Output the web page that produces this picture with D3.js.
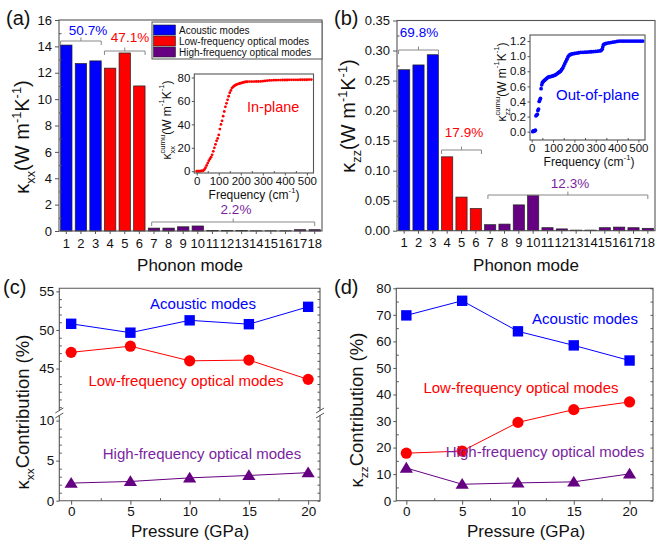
<!DOCTYPE html>
<html>
<head>
<meta charset="utf-8">
<script src="https://cdnjs.cloudflare.com/ajax/libs/d3/7.8.5/d3.min.js"></script>
<style>
body { margin: 0; background: #fff; }
svg { display: block; font-family: "Liberation Sans", Arial, sans-serif; }
</style>
</head>
<body>
<svg id="chart" width="657" height="547"></svg>
<script>
// ---- data ----
var modes = ["1","2","3","4","5","6","7","8","9","10","11","12","13","14","15","16","17","18"];
var modeGroup = ["ac","ac","ac","lo","lo","lo","hi","hi","hi","hi","hi","hi","hi","hi","hi","hi","hi","hi"];
var kxxModes = [14.1, 12.7, 12.9, 12.35, 13.5, 11.0, 0.22, 0.22, 0.32, 0.38, 0.04, 0.03, 0.03, 0.02, 0.02, 0.02, 0.10, 0.10];
var kzzModes = [0.268, 0.276, 0.293, 0.123, 0.056, 0.037, 0.010, 0.011, 0.043, 0.059, 0.005, 0.003, 0.001, 0.001, 0.005, 0.006, 0.005, 0.004];
var xxPercent = ["50.7%", "47.1%", "2.2%"];
var zzPercent = ["69.8%", "17.9%", "12.3%"];

var inplaneCumu = [[0,0],[5,0],[10,0],[15,0.1],[20,0.2],[25,0.3],[30,0.6],[35,1.5],[40,3],[45,5],[50,7],[55,9],[60,10.5],[65,12],
  [70,14],[75,17],[80,20],[85,23],[90,26],[95,28],[100,31],[105,36],[110,40],[115,43],[120,47],[125,51],[130,55],[135,58],
  [140,61],[145,64],[150,67],[155,69],[160,71],[165,72],[170,72.8],[175,73.4],[180,74],[185,74.3],[190,74.6],[195,74.9],
  [200,75.2],[205,75.5],[210,75.8],[215,76],[220,76.2],[225,76.3],[230,76.4],[240,76.5],[250,76.5],[260,76.5],[270,76.6],
  [280,76.6],[290,76.7],[300,76.9],[310,77.1],[320,77.3],[330,77.5],[340,77.6],[350,77.7],[360,77.7],[370,77.8],[380,77.8],
  [390,77.9],[400,77.9],[410,77.9],[420,78],[430,78],[440,78],[450,78],[460,78],[470,78.1],[480,78.1],[490,78.1],[500,78.1],
  [510,78.2],[520,78.2]];
var outplaneCumu = [[5,0],[8,0.01],[11,0.01],[14,0.01],[17,0.02],[20,0.21],[23,0.22],[26,0.23],[29,0.28],[32,0.3],[35,0.4],
  [38,0.42],[41,0.44],[44,0.57],[47,0.62],[50,0.65],[53,0.66],[56,0.67],[60,0.68],[64,0.69],[68,0.7],[72,0.71],[76,0.72],
  [80,0.725],[85,0.73],[90,0.73],[95,0.735],[100,0.74],[105,0.745],[110,0.75],[115,0.76],[120,0.77],[125,0.78],[130,0.79],
  [135,0.8],[140,0.82],[145,0.84],[150,0.87],[155,0.9],[160,0.93],[165,0.96],[170,0.99],[175,1.01],[180,1.02],[185,1.025],
  [190,1.03],[200,1.035],[210,1.04],[220,1.045],[230,1.05],[240,1.05],[250,1.052],[260,1.054],[270,1.056],[280,1.058],
  [290,1.06],[300,1.062],[310,1.066],[320,1.07],[325,1.075],[330,1.09],[333,1.12],[336,1.15],[340,1.16],[345,1.165],
  [350,1.17],[360,1.175],[370,1.18],[380,1.185],[390,1.19],[400,1.195],[410,1.2],[420,1.2],[430,1.2],[440,1.2],[450,1.2],
  [460,1.2],[470,1.2],[480,1.2],[490,1.2],[500,1.2],[510,1.2],[520,1.2]];

var pressures = [0, 5, 10, 15, 20];
var xxAcoustic = [50.8, 49.65, 51.25, 50.75, 53.0];
var xxLow = [47.1, 47.9, 46.0, 46.1, 43.6];
var xxHigh = [2.2, 2.4, 2.85, 3.15, 3.5];
var zzAcoustic = [69.8, 75.3, 63.8, 58.5, 52.8];
var zzLow = [17.9, 18.7, 29.5, 34.3, 37.2];
var zzHigh = [12.3, 6.2, 6.7, 7.1, 10.1];
var seriesNames = ["Acoustic modes", "Low-frequency optical modes", "High-frequency optical modes"];

// ---- style ----
var svg = d3.select("#chart");
var FRAME = "#555";
var BLUE = "#0000ff", RED = "#ff0000", PURPLE = "#650082", PURPLE_TXT = "#7a1fa0";
var groupColor = {ac: BLUE, lo: RED, hi: PURPLE};

function frame(p) {
    svg.append("rect").attr("x", p.x0).attr("y", p.y0)
        .attr("width", p.x1 - p.x0).attr("height", p.y1 - p.y0)
        .attr("fill", "none").attr("stroke", FRAME).attr("stroke-width", 1.1);
}

function styleAxis(g, size) {
    g.attr("font-family", null).attr("font-size", size);
    g.select(".domain").remove();
    g.selectAll("line").attr("stroke", FRAME);
    g.selectAll("text").attr("fill", "#111");
    return g;
}

function axis(maker, tx, ty, scale, ticks, fmt, size, tickLen, pad) {
    var a = maker(scale).tickValues(ticks).tickSize(tickLen).tickPadding(pad);
    a.tickFormat(fmt === null ? "" : fmt);
    var g = svg.append("g").attr("transform", "translate(" + tx + "," + ty + ")").call(a);
    return styleAxis(g, size);
}

// text with sub/superscripts, laid out piece by piece
function richText(x, y, rot, size, color, parts, anchor) {
    var g = svg.append("g").attr("transform", "translate(" + x + "," + y + ") rotate(" + rot + ")");
    var inner = g.append("g");
    var cx = 0, holdW = 0;
    parts.forEach(function (p) {
        var fs = p.s ? size * p.s : size;
        var t = inner.append("text").attr("x", cx).attr("y", p.dy ? p.dy * size / 18 : 0)
            .attr("font-size", fs).attr("fill", color).text(p.t);
        var w = t.node().getComputedTextLength();
        if (p.hold) {
            holdW = w;
        } else {
            cx += Math.max(w, holdW);
            holdW = 0;
        }
    });
    if (anchor === "middle") inner.attr("transform", "translate(" + (-cx / 2) + ",0)");
    return g;
}

function label(x, y, txt, size, color, anchor) {
    return svg.append("text").attr("x", x).attr("y", y).attr("font-size", size)
        .attr("fill", color).attr("text-anchor", anchor || "start").text(txt);
}

function bracket(xa, xb, y, xm) {
    var m = xm === undefined ? (xa + xb) / 2 : xm;
    svg.append("path")
        .attr("d", "M" + xa + "," + (y + 4) + "V" + y + "H" + xb + "V" + (y + 4) + "M" + m + "," + y + "V" + (y - 3.5))
        .attr("fill", "none").attr("stroke", "#888").attr("stroke-width", 1);
}

var unitParts = [{t: " (W m"}, {t: "-1", s: 0.64, dy: -7}, {t: "K"}, {t: "-1", s: 0.64, dy: -7}, {t: ")"}];
function kappa(sub) { return [{t: "κ"}, {t: sub, s: 0.64, dy: 5}]; }
var smallUnit = [{t: " (W m"}, {t: "-1", s: 0.64, dy: -10}, {t: "K"}, {t: "-1", s: 0.64, dy: -10}, {t: ")"}];
function kappaCumu(sub) {
    return [{t: "κ"}, {t: "cumu", s: 0.64, dy: -9, hold: true}, {t: sub, s: 0.64, dy: 6}];
}
var freqParts = [{t: "Frequency (cm"}, {t: "-1", s: 0.64, dy: -9}, {t: ")"}];

// ---- bar panels ----
function barPanel(p, values, yMax, yTicks, yMinor, fmt) {
    var x = d3.scaleBand().domain(modes).range([p.x0, p.x1]).paddingInner(0.22).paddingOuter(0.11);
    var y = d3.scaleLinear().domain([0, yMax]).range([p.y1, p.y0]);
    svg.append("g").selectAll("rect").data(values).enter().append("rect")
        .attr("x", function (d, i) { return x(modes[i]); })
        .attr("y", function (d) { return y(d); })
        .attr("width", x.bandwidth())
        .attr("height", function (d) { return y(0) - y(d); })
        .attr("fill", function (d, i) { return groupColor[modeGroup[i]]; })
        .attr("stroke", "#222").attr("stroke-width", 0.7);
    axis(d3.axisLeft, p.x0, 0, y, yTicks, fmt, 13, 4, 3);
    axis(d3.axisLeft, p.x0, 0, y, yMinor, null, 13, -2.5, 0);
    axis(d3.axisBottom, 0, p.y1, x, modes, String, 13, 3, 4.5);
    frame(p);
    return {x: x, y: y};
}

var A = {x0: 59, x1: 322, y0: 20, y1: 231};
var B = {x0: 397, x1: 655, y0: 20.5, y1: 230.7};

var sa = barPanel(A, kxxModes, 16, d3.range(0, 17, 2), d3.range(1, 16, 2), d3.format("d"));
var sb = barPanel(B, kzzModes, 0.35, d3.range(0, 0.351, 0.05), d3.range(0.025, 0.35, 0.05), d3.format(".2f"));

// legend in (a)
svg.append("rect").attr("x", 152).attr("y", 22).attr("width", 170).attr("height", 37)
    .attr("fill", "#fff").attr("stroke", FRAME).attr("stroke-width", 1);
["ac", "lo", "hi"].forEach(function (k, i) {
    svg.append("rect").attr("x", 153.5).attr("y", 25 + i * 11).attr("width", 22).attr("height", 10)
        .attr("fill", groupColor[k]).attr("stroke", "#222").attr("stroke-width", 0.6);
    label(179, 33.5 + i * 11, seriesNames[i], 10, "#111");
});

// brackets + percentages
function groupBrackets(s, pct, ys, ly, lx) {
    var bw = s.x.bandwidth();
    bracket(s.x("1"), s.x("3") + bw, ys[0]);
    bracket(s.x("4"), s.x("6") + bw, ys[1]);
    bracket(s.x("7") + bw * 0.3, s.x("18") + bw * 0.5, ys[2]);
    label(lx[0], ly[0], pct[0], 13.5, BLUE, "middle");
    label(lx[1], ly[1], pct[1], 13.5, RED, "middle");
    label(lx[2], ly[2], pct[2], 13.5, PURPLE_TXT, "middle");
}
groupBrackets(sa, xxPercent, [41, 51, 222], [35, 41.5, 214], [88, 130, 236]);
groupBrackets(sb, zzPercent, [50, 150, 195], [37, 136.5, 188], [419, 464, 570]);

// ---- insets ----
function inset(p, data, xDom, yDom, yTicks, fmt, r, color) {
    var x = d3.scaleLinear().domain(xDom).range([p.x0, p.x1]);
    var y = d3.scaleLinear().domain(yDom).range([p.y1, p.y0]);
    svg.append("rect").attr("x", p.x0).attr("y", p.y0).attr("width", p.x1 - p.x0).attr("height", p.y1 - p.y0)
        .attr("fill", "#fff");
    svg.append("g").selectAll("circle").data(data).enter().append("circle")
        .attr("cx", function (d) { return x(d[0]); })
        .attr("cy", function (d) { return y(d[1]); })
        .attr("r", r).attr("fill", color);
    axis(d3.axisLeft, p.x0, 0, y, yTicks, fmt, 11.5, 2.5, 1.5);
    axis(d3.axisBottom, 0, p.y1, x, [0, 100, 200, 300, 400, 500], d3.format("d"), 11.5, 2.5, 1);
    axis(d3.axisBottom, 0, p.y1, x, [50, 150, 250, 350, 450], null, 11.5, -2, 0);
    frame(p);
}
var IA = {x0: 194.3, x1: 313.5, y0: 74, y1: 173};
var IB = {x0: 530, x1: 645, y0: 35, y1: 140};
inset(IA, inplaneCumu, [-11, 530], [-1.5, 83], [0, 20, 40, 60, 80], d3.format("d"), 1.4, RED);
inset(IB, outplaneCumu, [-8, 531], [-0.11, 1.28], [0, 0.2, 0.4, 0.6, 0.8, 1.0, 1.2], d3.format(".1f"), 1.9, BLUE);
label(247, 112, "In-plane", 14.5, RED);
label(556, 100, "Out-of-plane", 15, BLUE);
richText(171, 120, -90, 12, "#111", kappaCumu("xx").concat(smallUnit), "middle");
richText(506, 82, -90, 12, "#111", kappaCumu("zz").concat(smallUnit), "middle");
richText(254, 199, 0, 12, "#111", freqParts, "middle");
richText(589, 166, 0, 12, "#111", freqParts, "middle");

// ---- pressure panels ----
function marker(shape, cx, cy, color) {
    if (shape === "sq") {
        svg.append("rect").attr("x", cx - 5.2).attr("y", cy - 5.2).attr("width", 10.4).attr("height", 10.4).attr("fill", color);
    } else if (shape === "ci") {
        svg.append("circle").attr("cx", cx).attr("cy", cy).attr("r", 5.6).attr("fill", color);
    } else {
        svg.append("path").attr("transform", "translate(" + cx + "," + cy + ")")
            .attr("d", "M0,-6.2L6.6,4.6L-6.6,4.6Z").attr("fill", color);
    }
}
function series(x, y, vals, shape, color) {
    var line = d3.line().x(function (d, i) { return x(pressures[i]); }).y(function (d) { return y(d); });
    svg.append("path").attr("d", line(vals)).attr("fill", "none").attr("stroke", color).attr("stroke-width", 1);
    vals.forEach(function (v, i) { marker(shape, x(pressures[i]), y(v), color); });
}
function pressureX(p, dom) {
    var x = d3.scaleLinear().domain(dom).range([p.x0, p.x1]);
    axis(d3.axisBottom, 0, p.y1, x, pressures, d3.format("d"), 13.5, 4, 1.5);
    axis(d3.axisBottom, 0, p.y1, x, [2.5, 7.5, 12.5, 17.5], null, 13.5, -2.5, 0);
    return x;
}

// (c) with broken y axis
var C = {x0: 59.3, x1: 320, y0: 288.3, y1: 500.7};
var xc = pressureX(C, [-1, 21]);
var ycUp = d3.scaleLinear().domain([39.5, 55.4]).range([411, C.y0]);
var ycLo = d3.scaleLinear().domain([0, 10.7]).range([C.y1, 415]);
axis(d3.axisLeft, C.x0, 0, ycUp, [45, 50, 55], d3.format("d"), 13.5, 3, 2);
axis(d3.axisLeft, C.x0, 0, ycUp, [40, 41, 42, 43, 44, 46, 47, 48, 49, 51, 52, 53, 54], null, 13.5, -2.5, 0);
axis(d3.axisLeft, C.x0, 0, ycLo, [0, 5, 10], d3.format("d"), 13.5, 3, 2);
axis(d3.axisLeft, C.x0, 0, ycLo, [1, 2, 3, 4, 6, 7, 8, 9], null, 13.5, -2.5, 0);
axis(d3.axisRight, C.x1, 0, ycUp, d3.range(40, 56), null, 13.5, -2.5, 0);
axis(d3.axisRight, C.x1, 0, ycLo, d3.range(0, 11), null, 13.5, -2.5, 0);
svg.append("path")
    .attr("d", "M" + C.x0 + ",411V" + C.y0 + "H" + C.x1 + "V411" +
        "M" + C.x0 + ",415V" + C.y1 + "H" + C.x1 + "V415")
    .attr("fill", "none").attr("stroke", FRAME).attr("stroke-width", 1.1);
[C.x0, C.x1].forEach(function (bx) {
    svg.append("path").attr("d", "M" + (bx - 4) + ",413L" + (bx + 4) + ",408M" + (bx - 4) + ",418L" + (bx + 4) + ",413")
        .attr("fill", "none").attr("stroke", FRAME).attr("stroke-width", 1);
});
series(xc, ycUp, xxAcoustic, "sq", BLUE);
series(xc, ycUp, xxLow, "ci", RED);
series(xc, ycLo, xxHigh, "tr", PURPLE);
label(203, 309, seriesNames[0], 15, BLUE, "middle");
label(186, 386, seriesNames[1], 15, RED, "middle");
label(202, 459, seriesNames[2], 15, PURPLE_TXT, "middle");

// (d)
var D = {x0: 396.3, x1: 653, y0: 288.3, y1: 500.7};
var xd = pressureX(D, [-0.9, 22.1]);
var yd = d3.scaleLinear().domain([0, 80]).range([D.y1, D.y0]);
axis(d3.axisLeft, D.x0, 0, yd, d3.range(0, 81, 10), d3.format("d"), 13.5, 3, 2);
axis(d3.axisLeft, D.x0, 0, yd, d3.range(5, 80, 10), null, 13.5, -2.5, 0);
axis(d3.axisRight, D.x1, 0, yd, d3.range(0, 81, 5), null, 13.5, -2.5, 0);
frame(D);
series(xd, yd, zzAcoustic, "sq", BLUE);
series(xd, yd, zzLow, "ci", RED);
series(xd, yd, zzHigh, "tr", PURPLE);
label(585, 324, seriesNames[0], 15, BLUE, "middle");
label(521, 393, seriesNames[1], 15, RED, "middle");
label(545, 457, seriesNames[2], 15, PURPLE_TXT, "middle");

// ---- titles ----
richText(29, 137, -90, 20, "#111", kappa("xx").concat(unitParts), "middle");
richText(355, 116, -90, 20, "#111", kappa("zz").concat(unitParts), "middle");
richText(29, 412, -90, 18.5, "#111", kappa("xx").concat([{t: " Contribution (%)"}]), "middle");
richText(363, 410, -90, 18.5, "#111", kappa("zz").concat([{t: " Contribution (%)"}]), "middle");
label(190, 271, "Phonon mode", 17, "#111", "middle");
label(526, 271, "Phonon mode", 17, "#111", "middle");
label(190, 537, "Pressure (GPa)", 17, "#111", "middle");
label(526, 537, "Pressure (GPa)", 17, "#111", "middle");
label(6, 25, "(a)", 20, "#111");
label(334, 25, "(b)", 20, "#111");
label(3, 294, "(c)", 20, "#111");
label(334, 294, "(d)", 20, "#111");
</script>
</body>
</html>
